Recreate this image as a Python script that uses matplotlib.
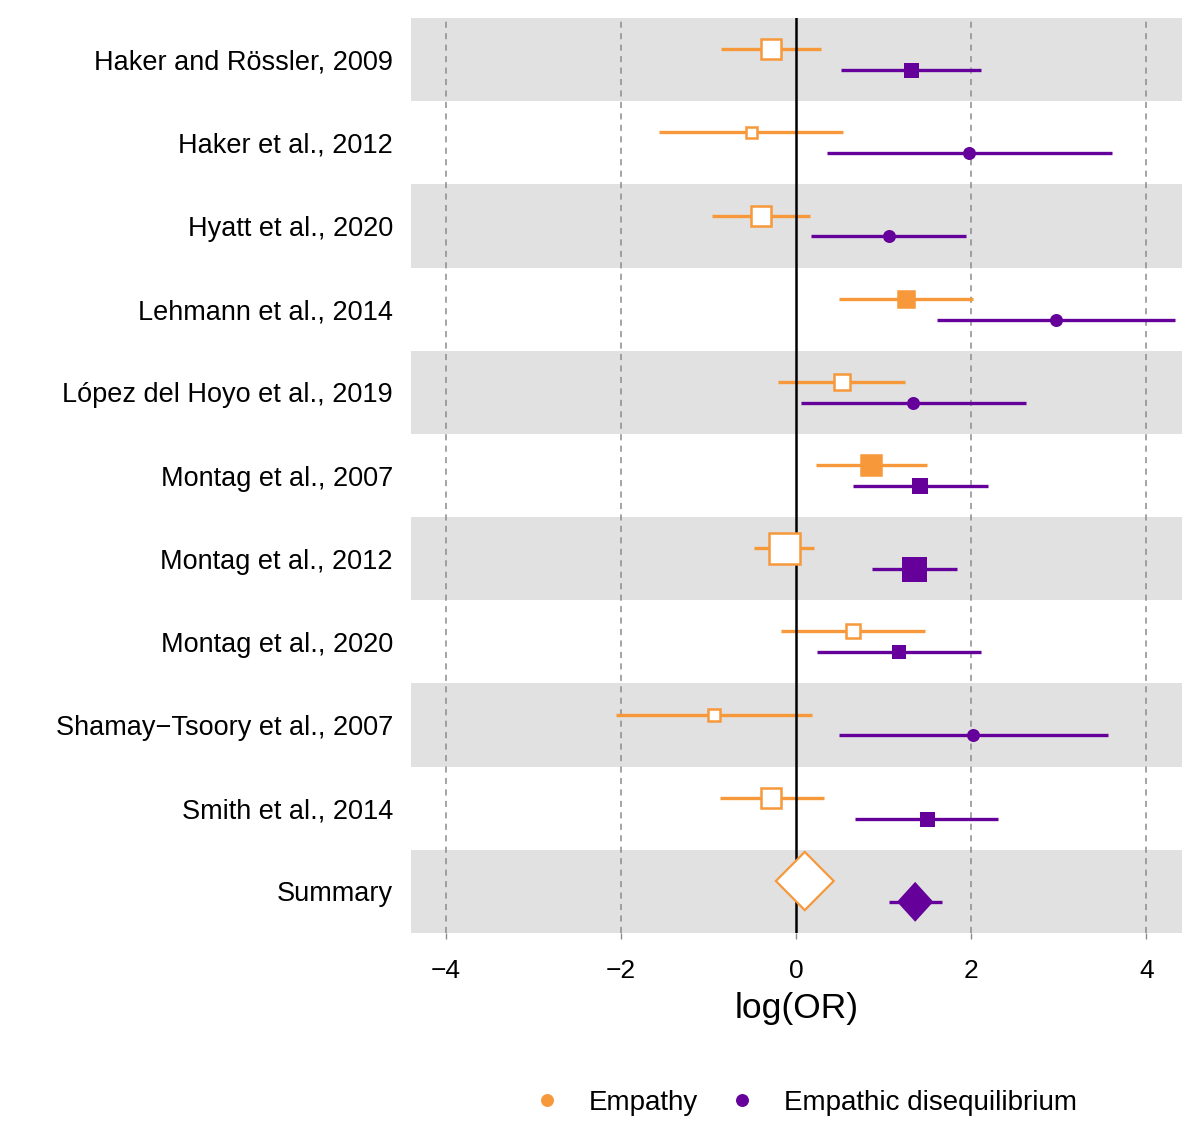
import numpy as np
import matplotlib
matplotlib.use('Agg')
import matplotlib.pyplot as plt
from matplotlib.lines import Line2D

plt.rcParams['font.family'] = ['Liberation Sans', 'DejaVu Sans']

# study labels, top to bottom
studies = ['Haker and Rössler, 2009', 'Haker et al., 2012', 'Hyatt et al., 2020',
           'Lehmann et al., 2014', 'López del Hoyo et al., 2019', 'Montag et al., 2007',
           'Montag et al., 2012', 'Montag et al., 2020', 'Shamay\u2212Tsoory et al., 2007',
           'Smith et al., 2014', 'Summary']

# Empathy: log(OR) with CI
emp_est = [-0.29, -0.51, -0.40, 1.25, 0.52, 0.86, -0.14, 0.65, -0.94, -0.28]
emp_lo = [-0.86, -1.56, -0.96, 0.49, -0.21, 0.23, -0.48, -0.17, -2.06, -0.87]
emp_hi = [0.28, 0.54, 0.16, 2.02, 1.24, 1.49, 0.21, 1.47, 0.18, 0.32]
emp_sig = [False, False, False, True, False, True, False, False, False, False]
emp_weight = [20, 11, 20, 16.5, 16, 19.5, 31, 14.5, 11.5, 19.5]

# Empathic disequilibrium
dis_est = [1.31, 1.98, 1.06, 2.97, 1.34, 1.42, 1.35, 1.18, 2.02, 1.49]
dis_lo = [0.51, 0.35, 0.17, 1.61, 0.06, 0.65, 0.87, 0.24, 0.49, 0.67]
dis_hi = [2.11, 3.61, 1.94, 4.33, 2.62, 2.19, 1.84, 2.11, 3.56, 2.31]
dis_circle = [False, True, True, True, True, False, False, False, True, False]
dis_weight = [15, 13, 13, 13, 13, 16.5, 25, 14, 13, 15]

# summary estimates (empathy, disequilibrium)
sum_est = [0.10, 1.36]
sum_lo = [-0.23, 1.17]
sum_hi = [0.43, 1.55]
sum_pi_lo = [0.10, 1.06]
sum_pi_hi = [0.10, 1.67]

ORANGE = '#F7983A'
PURPLE = '#65009A'
PX = 0.72  # px -> pt at dpi 100


def draw_diamond(ax, y, est, lo, hi, half_h, face, edge):
    xs = [lo, est, hi, est, lo]
    ys = [y, y - half_h, y, y + half_h, y]
    ax.fill(xs, ys, facecolor=face, edgecolor=edge, linewidth=1.6, zorder=5)


fig = plt.figure(figsize=(12, 11.31), dpi=100)
ax = fig.add_axes([411 / 1200, 1 - 933 / 1131, (1182 - 411) / 1200, (933 - 18) / 1131])

n = len(studies)
ypos = np.arange(n)
off = 0.125

for i in ypos:
    if i % 2 == 0:
        ax.axhspan(i - 0.5, i + 0.5, color='#E1E1E1', lw=0, zorder=0)

for gx in [-4, -2, 2, 4]:
    ax.axvline(gx, color='#8C8C8C', lw=1.1, ls=(0, (4, 3.5)), zorder=1)

for i in range(len(emp_est)):
    y = ypos[i] - off
    ax.plot([emp_lo[i], emp_hi[i]], [y, y], color=ORANGE, lw=2.4, zorder=3,
            solid_capstyle='butt')
    face = ORANGE if emp_sig[i] else 'white'
    ax.plot(emp_est[i], y, marker='s', ms=emp_weight[i] * PX, mfc=face,
            mec=ORANGE, mew=1.8, zorder=4)

    y = ypos[i] + off
    ax.plot([dis_lo[i], dis_hi[i]], [y, y], color=PURPLE, lw=2.4, zorder=3,
            solid_capstyle='butt')
    mk = 'o' if dis_circle[i] else 's'
    ax.plot(dis_est[i], y, marker=mk, ms=dis_weight[i] * PX, mfc=PURPLE,
            mec=PURPLE, mew=0, zorder=4)

# summary row
ys = ypos[-1]
ax.plot([sum_pi_lo[1], sum_pi_hi[1]], [ys + off, ys + off], color=PURPLE, lw=2.4,
        zorder=3, solid_capstyle='butt')
draw_diamond(ax, ys - off, sum_est[0], sum_lo[0], sum_hi[0], 0.35, 'white', ORANGE)
draw_diamond(ax, ys + off, sum_est[1], sum_lo[1], sum_hi[1], 0.22, PURPLE, PURPLE)

ax.axvline(0, color='black', lw=1.8, zorder=3.5)

ax.set_xlim(-4.395, 4.406)
ax.set_ylim(n - 0.5, -0.5)
ax.set_yticks(ypos)
ax.set_yticklabels(studies, fontsize=19.5)
ax.set_xticks([-4, -2, 0, 2, 4])
ax.tick_params(axis='y', length=0, pad=13)
ax.tick_params(axis='x', length=4, width=1, color='#8C8C8C', labelsize=19, pad=15)
for s in ax.spines.values():
    s.set_visible(False)
ax.set_xlabel('log(OR)', fontsize=25.5, labelpad=6)

handles = [Line2D([], [], ls='', marker='o', ms=8.3, color=ORANGE),
           Line2D([], [], ls='', marker='o', ms=8.3, color=PURPLE)]
fig.legend(handles, ['Empathy', 'Empathic disequilibrium'], loc='center',
           bbox_to_anchor=(805 / 1200, 1 - 1103 / 1131), ncol=2, frameon=False,
           fontsize=20, handletextpad=1.0, columnspacing=1.1, handlelength=1.0)

fig.savefig('out.png', dpi=100)
